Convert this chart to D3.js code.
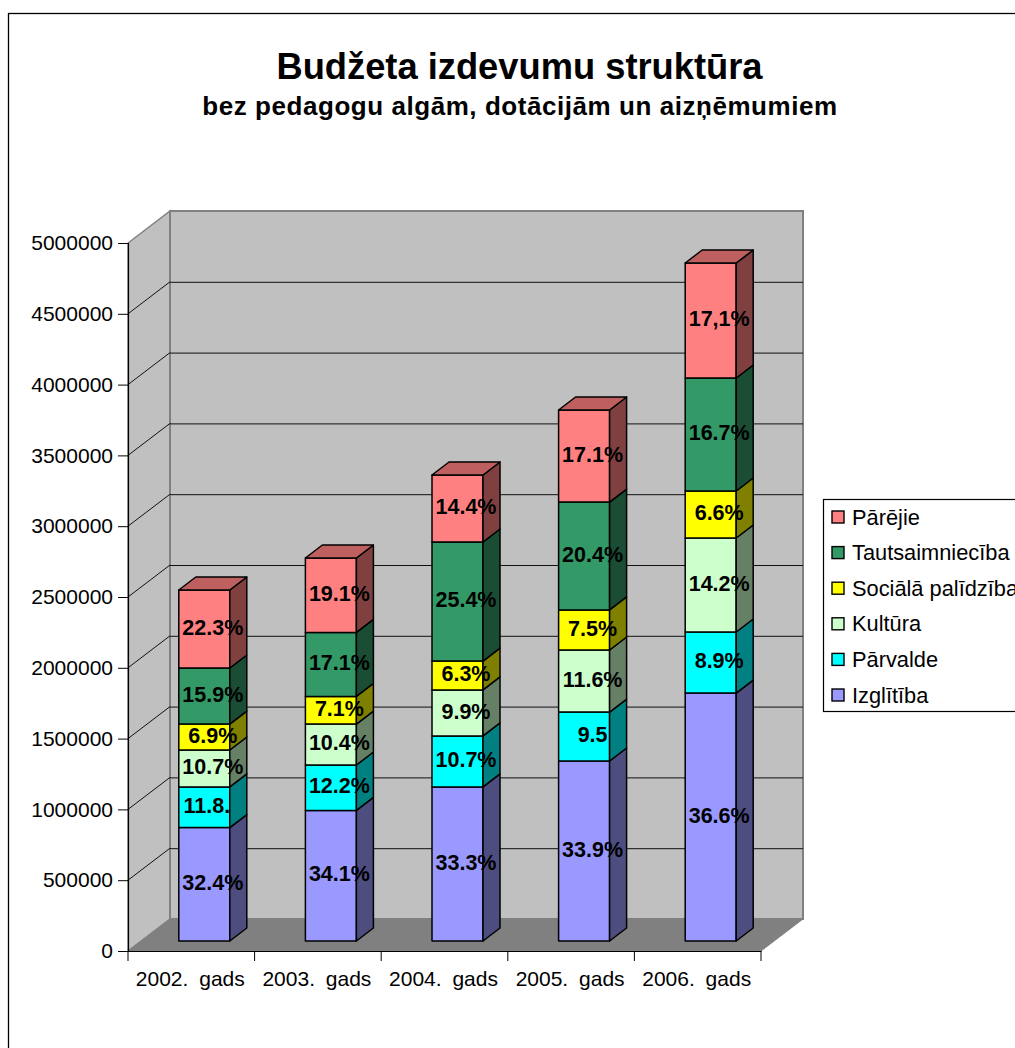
<!DOCTYPE html>
<html><head><meta charset="utf-8">
<script src="https://cdn.jsdelivr.net/npm/d3@7"></script>
<style>html,body{margin:0;padding:0;background:#fff;overflow:hidden}svg{display:block}text{font-family:"Liberation Sans",Arial,sans-serif;fill:#000}</style>
</head><body><svg id="c" width="1015" height="1048"></svg>
<script>
const categories = ["2002. gads","2003. gads","2004. gads","2005. gads","2006. gads"];
const seriesNames = ["Izglītība","Pārvalde","Kultūra","Sociālā palīdzība","Tautsaimniecība","Pārējie"];
const izglitiba = [801000,922000,1088000,1271000,1751000];
const parvalde = [287000,321000,360000,346000,431000];
const kultura = [261000,289000,325000,438000,664000];
const socialaPalidziba = [183000,195000,204000,283000,332000];
const tautsaimnieciba = [396000,452000,841000,762000,798000];
const parejie = [551000,526000,473000,650000,812000];
const labelIzglitiba = ["32.4%","34.1%","33.3%","33.9%","36.6%"];
const labelParvalde = ["11.8.","12.2%","10.7%","9.5","8.9%"];
const labelKultura = ["10.7%","10.4%","9.9%","11.6%","14.2%"];
const labelSociala = ["6.9%","7.1%","6.3%","7.5%","6.6%"];
const labelTautsaimn = ["15.9%","17.1%","25.4%","20.4%","16.7%"];
const labelParejie = ["22.3%","19.1%","14.4%","17.1%","17,1%"];
const yTicks = [0,500000,1000000,1500000,2000000,2500000,3000000,3500000,4000000,4500000,5000000];
const frontColors = ["#9999FF","#00FFFF","#CCFFCC","#FFFF00","#339966","#FF8080"];
const sideColors = ["#4D4D80","#008080","#668066","#808000","#1A4D33","#804040"];
const topColor = "#BF6060";

const values = [izglitiba,parvalde,kultura,socialaPalidziba,tautsaimnieciba,parejie];
const labels = [labelIzglitiba,labelParvalde,labelKultura,labelSociala,labelTautsaimn,labelParejie];
const rows = categories.map((c,i)=>{const r={cat:c};seriesNames.forEach((s,j)=>r[s]=values[j][i]);return r;});
const stacked = d3.stack().keys(seriesNames)(rows);

const svg = d3.select("#c");
const x = d3.scaleBand().domain(categories).range([128,761]);
const y = d3.scaleLinear().domain([0,5000000]).range([951,243]);
const wallDx = 42, wallDy = -32, barW = 51, barDx = 17, barDy = -13, frontDx = 13, frontDy = -10;
const poly = pts => pts.map(p=>p.join(",")).join(" ");

// frame
svg.append("rect").attr("x",8.5).attr("y",13.5).attr("width",1100).attr("height",1100).attr("fill","#fff").attr("stroke","#000").attr("stroke-width",1.3);

// titles
svg.append("text").attr("x",519.5).attr("y",79).attr("text-anchor","middle").attr("font-weight","bold").attr("font-size",36.3).text("Budžeta izdevumu struktūra");
svg.append("text").attr("x",520).attr("y",115).attr("text-anchor","middle").attr("font-weight","bold").attr("font-size",26).attr("letter-spacing",0.55).text("bez pedagogu algām, dotācijām un aizņēmumiem");

// walls
const [x0,x1] = x.range(), yb = y(0), yt = y(5000000);
svg.append("polygon").attr("points",poly([[x0,yb],[x0+wallDx,yb+wallDy],[x0+wallDx,yt+wallDy],[x0,yt]])).attr("fill","#C0C0C0").attr("stroke","#808080").attr("stroke-width",1.5);
svg.append("polygon").attr("points",poly([[x0+wallDx,yb+wallDy],[x1+wallDx,yb+wallDy],[x1+wallDx,yt+wallDy],[x0+wallDx,yt+wallDy]])).attr("fill","#C0C0C0").attr("stroke","#808080").attr("stroke-width",2);
svg.append("polygon").attr("points",poly([[x0,yb],[x1,yb],[x1+wallDx,yb+wallDy],[x0+wallDx,yb+wallDy]])).attr("fill","#808080").attr("stroke","#808080").attr("stroke-width",1);

// gridlines
const grid = yTicks.filter(t=>t>0&&t<5000000);
svg.append("g").selectAll("line.b").data(grid).join("line").attr("x1",x0+wallDx).attr("x2",x1+wallDx).attr("y1",d=>y(d)+wallDy+.5).attr("y2",d=>y(d)+wallDy+.5).attr("stroke","#111").attr("stroke-width",1);
svg.append("g").selectAll("line.s").data(grid).join("line").attr("x1",x0).attr("x2",x0+wallDx).attr("y1",d=>y(d)).attr("y2",d=>y(d)+wallDy).attr("stroke","#111").attr("stroke-width",1);

// axes
const axL = svg.append("g").attr("transform",`translate(${x0},0)`).call(d3.axisLeft(y).tickValues(yTicks).tickFormat(d3.format("d")).tickSize(10).tickPadding(5));
const axB = svg.append("g").attr("transform",`translate(0,${yb})`).call(d3.axisBottom(x).tickSize(0).tickPadding(20));
axB.append("g").selectAll("line").data(d3.range(categories.length+1)).join("line").attr("x1",i=>x0+i*x.step()).attr("x2",i=>x0+i*x.step()).attr("y1",0).attr("y2",10).attr("stroke","#000");
[axL,axB].forEach(a=>{a.attr("font-family",null).attr("font-size",null);a.selectAll("text").attr("font-size",21);a.selectAll(".tick line").attr("stroke","#000");a.select(".domain").attr("stroke","#000").attr("stroke-width",1.2);});
axB.selectAll("text").attr("word-spacing",5).attr("dx",-1);
axL.selectAll(".tick line").attr("stroke-width",1);

// bars
const barX = c => x(c)+(x.step()-barW)/2+frontDx;
const barsG = svg.append("g").attr("stroke","#000").attr("stroke-width",1.5).attr("stroke-linejoin","round");
categories.forEach((c,i)=>{
  const g = barsG.append("g");
  const bx = barX(c);
  stacked.forEach((s,j)=>{
    const d = s[i], y0 = y(d[0])+frontDy, y1 = y(d[1])+frontDy;
    g.append("rect").attr("x",bx).attr("y",y1).attr("width",barW).attr("height",y0-y1).attr("fill",frontColors[j]);
    g.append("polygon").attr("points",poly([[bx+barW,y0],[bx+barW+barDx,y0+barDy],[bx+barW+barDx,y1+barDy],[bx+barW,y1]])).attr("fill",sideColors[j]);
    if(j===stacked.length-1) g.append("polygon").attr("points",poly([[bx,y1],[bx+barDx,y1+barDy],[bx+barW+barDx,y1+barDy],[bx+barW,y1]])).attr("fill",topColor);
  });
});

// data labels
categories.forEach((c,i)=>{
  stacked.forEach((s,j)=>{
    const d = s[i], mid = (y(d[0])+y(d[1]))/2+frontDy;
    const t = labels[j][i];
    svg.append("text").attr("x",barX(c)+barW/2+8.5-(t.endsWith(".")?6:0)).attr("y",mid-2).attr("dy","0.36em").attr("text-anchor","middle").attr("font-weight","bold").attr("font-size",21.5).text(t);
  });
});

// legend
const lg = svg.append("g");
lg.append("rect").attr("x",823.5).attr("y",499.5).attr("width",300).attr("height",212).attr("fill","#fff").attr("stroke","#000").attr("stroke-width",1.2);
const legY = d3.scalePoint().domain(seriesNames.slice().reverse()).range([517,695]);
seriesNames.forEach((n,j)=>{
  lg.append("rect").attr("x",832).attr("y",legY(n)-6).attr("width",12).attr("height",12).attr("fill",frontColors[j]).attr("stroke","#000").attr("stroke-width",1.4);
  lg.append("text").attr("x",852).attr("y",legY(n)).attr("dy","0.35em").attr("font-size",21.8).text(n);
});
</script></body></html>
